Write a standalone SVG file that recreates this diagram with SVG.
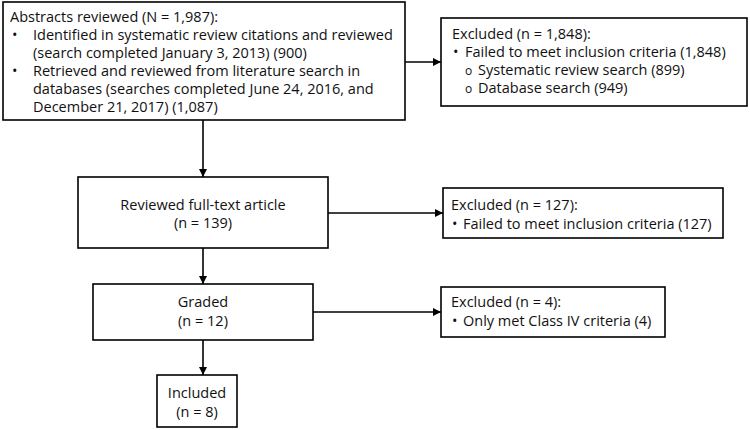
<svg xmlns="http://www.w3.org/2000/svg" width="750" height="430" viewBox="0 0 750 430">
<defs>
<marker id="ah" viewBox="0 0 10 10" refX="10" refY="5" markerWidth="8" markerHeight="8" markerUnits="userSpaceOnUse" orient="auto">
<path d="M0,0 L10,5 L0,10 z" fill="#000"/>
</marker>
<style>
.box{fill:#fff;stroke:#000;stroke-width:1.6}
.t{font-family:"Open Sans","Noto Sans",sans-serif;font-size:14.5px;fill:#111}
.c{text-anchor:middle}
.s{font-size:12px}
.ln{stroke:#000;stroke-width:1.6;fill:none;marker-end:url(#ah)}
</style>
</defs>
<rect width="750" height="430" fill="#fff"/>
<g id="connectors">
<line class="ln" x1="405" y1="62" x2="441" y2="62"/>
<line class="ln" x1="203" y1="120" x2="203" y2="177"/>
<line class="ln" x1="328" y1="213" x2="443" y2="213"/>
<line class="ln" x1="203" y1="248" x2="203" y2="284"/>
<line class="ln" x1="313" y1="312" x2="441" y2="312"/>
<line class="ln" x1="203" y1="340" x2="203" y2="375"/>
</g>
<g id="abstracts">
<rect class="box" x="3" y="2" width="402" height="118"/>
<text class="t" x="10" y="22">Abstracts reviewed (N = 1,987):</text>
<text class="t" x="12" y="40">•<tspan x="33">Identified in systematic review citations and reviewed</tspan></text>
<text class="t" x="33" y="58">(search completed January 3, 2013) (900)</text>
<text class="t" x="12" y="76">•<tspan x="33">Retrieved and reviewed from literature search in</tspan></text>
<text class="t" x="33" y="94">databases (searches completed June 24, 2016, and</text>
<text class="t" x="33" y="112">December 21, 2017) (1,087)</text>
</g>
<g id="excluded1">
<rect class="box" x="441" y="18" width="306" height="88"/>
<text class="t" x="452" y="39">Excluded (n = 1,848):</text>
<text class="t" x="453" y="57">•<tspan x="465">Failed to meet inclusion criteria (1,848)</tspan></text>
<text class="t" x="465" y="75"><tspan class="s">o</tspan><tspan x="478">Systematic review search (899)</tspan></text>
<text class="t" x="465" y="93"><tspan class="s">o</tspan><tspan x="478">Database search (949)</tspan></text>
</g>
<g id="fulltext">
<rect class="box" x="78" y="177" width="250" height="71"/>
<text class="t c" x="203" y="210">Reviewed full-text article</text>
<text class="t c" x="203" y="228">(n = 139)</text>
</g>
<g id="excluded2">
<rect class="box" x="443" y="188" width="280" height="50"/>
<text class="t" x="451" y="210">Excluded (n = 127):</text>
<text class="t" x="452" y="229">•<tspan x="463">Failed to meet inclusion criteria (127)</tspan></text>
</g>
<g id="graded">
<rect class="box" x="93" y="284" width="220" height="56"/>
<text class="t c" x="203" y="307">Graded</text>
<text class="t c" x="203" y="326">(n = 12)</text>
</g>
<g id="excluded3">
<rect class="box" x="441" y="287" width="224" height="50"/>
<text class="t" x="451" y="307">Excluded (n = 4):</text>
<text class="t" x="452" y="326">•<tspan x="463">Only met Class IV criteria (4)</tspan></text>
</g>
<g id="included">
<rect class="box" x="157" y="375" width="80" height="52"/>
<text class="t c" x="197" y="398">Included</text>
<text class="t c" x="197" y="417">(n = 8)</text>
</g>
</svg>
